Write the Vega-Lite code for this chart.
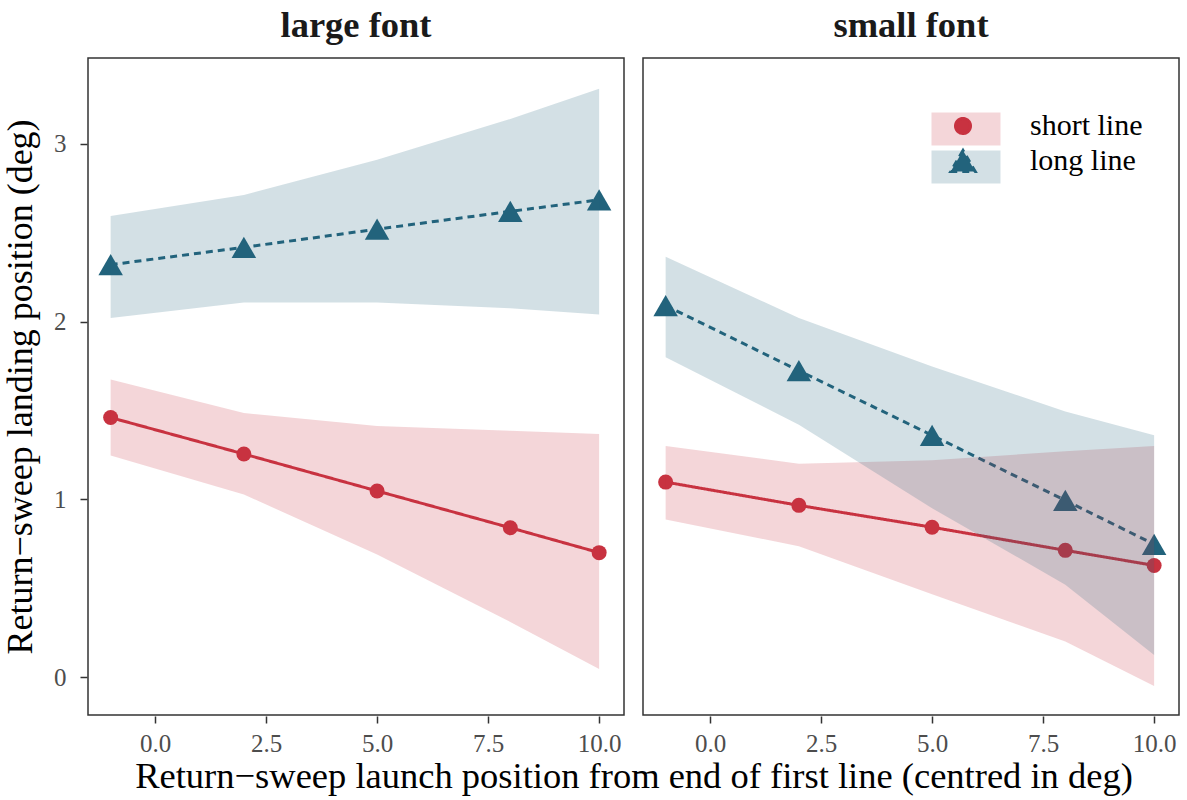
{
  "$schema": "https://vega.github.io/schema/vega-lite/v6.json",
  "background": "white",
  "padding": {"left": 2, "top": 7, "right": 11, "bottom": 5},
  "config": {
    "font": "Liberation Serif",
    "view": {"stroke": "#333333", "strokeWidth": 1.5},
    "axis": {
      "labelFont": "Liberation Serif",
      "titleFont": "Liberation Serif",
      "labelFontSize": 25,
      "titleFontSize": 36,
      "titleFontWeight": "normal",
      "labelColor": "#4d4d4d",
      "titleColor": "#000000",
      "grid": false,
      "domain": false,
      "tickColor": "#333333",
      "tickSize": 7,
      "tickWidth": 1.5,
      "labelPadding": 5
    },
    "legend": {"title": null}
  },
  "data": {
    "values": [
      {"font": "large font", "line": "short line", "band": "short", "x": -1, "y": 1.46, "lo": 1.247, "hi": 1.674},
      {"font": "large font", "line": "short line", "band": "short", "x": 2, "y": 1.255, "lo": 1.027, "hi": 1.485},
      {"font": "large font", "line": "short line", "band": "short", "x": 5, "y": 1.047, "lo": 0.69, "hi": 1.413},
      {"font": "large font", "line": "short line", "band": "short", "x": 8, "y": 0.84, "lo": 0.31, "hi": 1.386},
      {"font": "large font", "line": "short line", "band": "short", "x": 10, "y": 0.7, "lo": 0.045, "hi": 1.367},
      {"font": "small font", "line": "short line", "band": "short", "x": -1, "y": 1.097, "lo": 0.887, "hi": 1.3},
      {"font": "small font", "line": "short line", "band": "short", "x": 2, "y": 0.966, "lo": 0.736, "hi": 1.2},
      {"font": "small font", "line": "short line", "band": "short", "x": 5, "y": 0.843, "lo": 0.466, "hi": 1.22},
      {"font": "small font", "line": "short line", "band": "short", "x": 8, "y": 0.713, "lo": 0.2, "hi": 1.27},
      {"font": "small font", "line": "short line", "band": "short", "x": 10, "y": 0.628, "lo": -0.05, "hi": 1.3},
      {"font": "large font", "line": "long line", "band": "long", "x": -1, "y": 2.32, "lo": 2.02, "hi": 2.594},
      {"font": "large font", "line": "long line", "band": "long", "x": 2, "y": 2.418, "lo": 2.107, "hi": 2.712},
      {"font": "large font", "line": "long line", "band": "long", "x": 5, "y": 2.52, "lo": 2.107, "hi": 2.91},
      {"font": "large font", "line": "long line", "band": "long", "x": 8, "y": 2.62, "lo": 2.075, "hi": 3.14},
      {"font": "large font", "line": "long line", "band": "long", "x": 10, "y": 2.685, "lo": 2.04, "hi": 3.31},
      {"font": "small font", "line": "long line", "band": "long", "x": -1, "y": 2.09, "lo": 1.8, "hi": 2.365},
      {"font": "small font", "line": "long line", "band": "long", "x": 2, "y": 1.724, "lo": 1.42, "hi": 2.02},
      {"font": "small font", "line": "long line", "band": "long", "x": 5, "y": 1.36, "lo": 0.95, "hi": 1.747},
      {"font": "small font", "line": "long line", "band": "long", "x": 8, "y": 0.994, "lo": 0.52, "hi": 1.494},
      {"font": "small font", "line": "long line", "band": "long", "x": 10, "y": 0.747, "lo": 0.124, "hi": 1.36}
    ]
  },
  "facet": {
    "column": {
      "field": "font",
      "type": "nominal",
      "sort": ["large font", "small font"],
      "title": "Return−sweep launch position from end of first line (centred in deg)",
      "header": {
        "titleOrient": "bottom",
        "labelOrient": "top",
        "titleFont": "Liberation Serif",
        "titleFontSize": 36.5,
        "titleFontWeight": "normal",
        "titleColor": "#000000",
        "titlePadding": -7,
        "labelFont": "Liberation Serif",
        "labelFontSize": 36.5,
        "labelFontWeight": "bold",
        "labelColor": "#1a1a1a",
        "labelPadding": 13
      }
    }
  },
  "spacing": 17,
  "spec": {
    "width": 536,
    "height": 657,
    "encoding": {
      "x": {
        "field": "x",
        "type": "quantitative",
        "scale": {"domain": [-1.51, 10.56], "nice": false, "zero": false},
        "axis": {"values": [0, 2.5, 5, 7.5, 10], "format": ".1f", "title": null, "labelPadding": 8}
      }
    },
    "layer": [
      {
        "mark": {"type": "line", "strokeWidth": 3},
        "encoding": {
          "y": {
            "field": "y",
            "type": "quantitative",
            "scale": {"domain": [-0.2135, 3.483], "nice": false, "zero": false},
            "axis": {"values": [0, 1, 2, 3], "format": "d", "title": "Return−sweep landing position (deg)", "titlePadding": 14, "labelPadding": 14}
          },
          "color": {
            "field": "line",
            "type": "nominal",
            "scale": {"domain": ["short line", "long line"], "range": ["#c83240", "#22637c"]}
          },
          "strokeDash": {
            "field": "line",
            "type": "nominal",
            "scale": {"domain": ["short line", "long line"], "range": [[1, 0], [7, 5]]},
            "legend": null
          }
        }
      },
      {
        "mark": {"type": "point", "filled": true, "opacity": 1},
        "encoding": {
          "y": {"field": "y", "type": "quantitative"},
          "color": {
            "field": "line",
            "type": "nominal",
            "legend": {
              "title": null,
              "orient": "none",
              "legendX": 860,
              "legendY": 53,
              "symbolSize": 1089,
              "symbolStrokeWidth": 3,
              "labelFont": "Liberation Serif",
              "labelFontSize": 30,
              "labelColor": "#000000",
              "labelOffset": 52,
              "rowPadding": 3
            }
          },
          "shape": {
            "field": "line",
            "type": "nominal",
            "scale": {"domain": ["short line", "long line"], "range": ["circle", "triangle-up"]},
            "legend": null
          },
          "size": {
            "field": "line",
            "type": "nominal",
            "scale": {"domain": ["short line", "long line"], "range": [225, 600]},
            "legend": null
          }
        }
      },
      {
        "mark": {"type": "area", "fillOpacity": 0.2},
        "encoding": {
          "y": {"field": "lo", "type": "quantitative"},
          "y2": {"field": "hi"},
          "fill": {
            "field": "band",
            "type": "nominal",
            "scale": {"domain": ["short", "long"], "range": ["#c83240", "#22637c"]},
            "legend": {
              "title": null,
              "orient": "none",
              "legendX": 860,
              "legendY": 53,
              "symbolType": "M-2.09,-1L2.09,-1L2.09,1L-2.09,1Z",
              "symbolSize": 1089,
              "symbolStrokeWidth": 3,
              "symbolOpacity": 0.2,
              "labelFont": "Liberation Serif",
              "labelFontSize": 30,
              "labelOffset": 52,
              "labelExpr": "''",
              "rowPadding": 3
            }
          }
        }
      }
    ]
  }
}
